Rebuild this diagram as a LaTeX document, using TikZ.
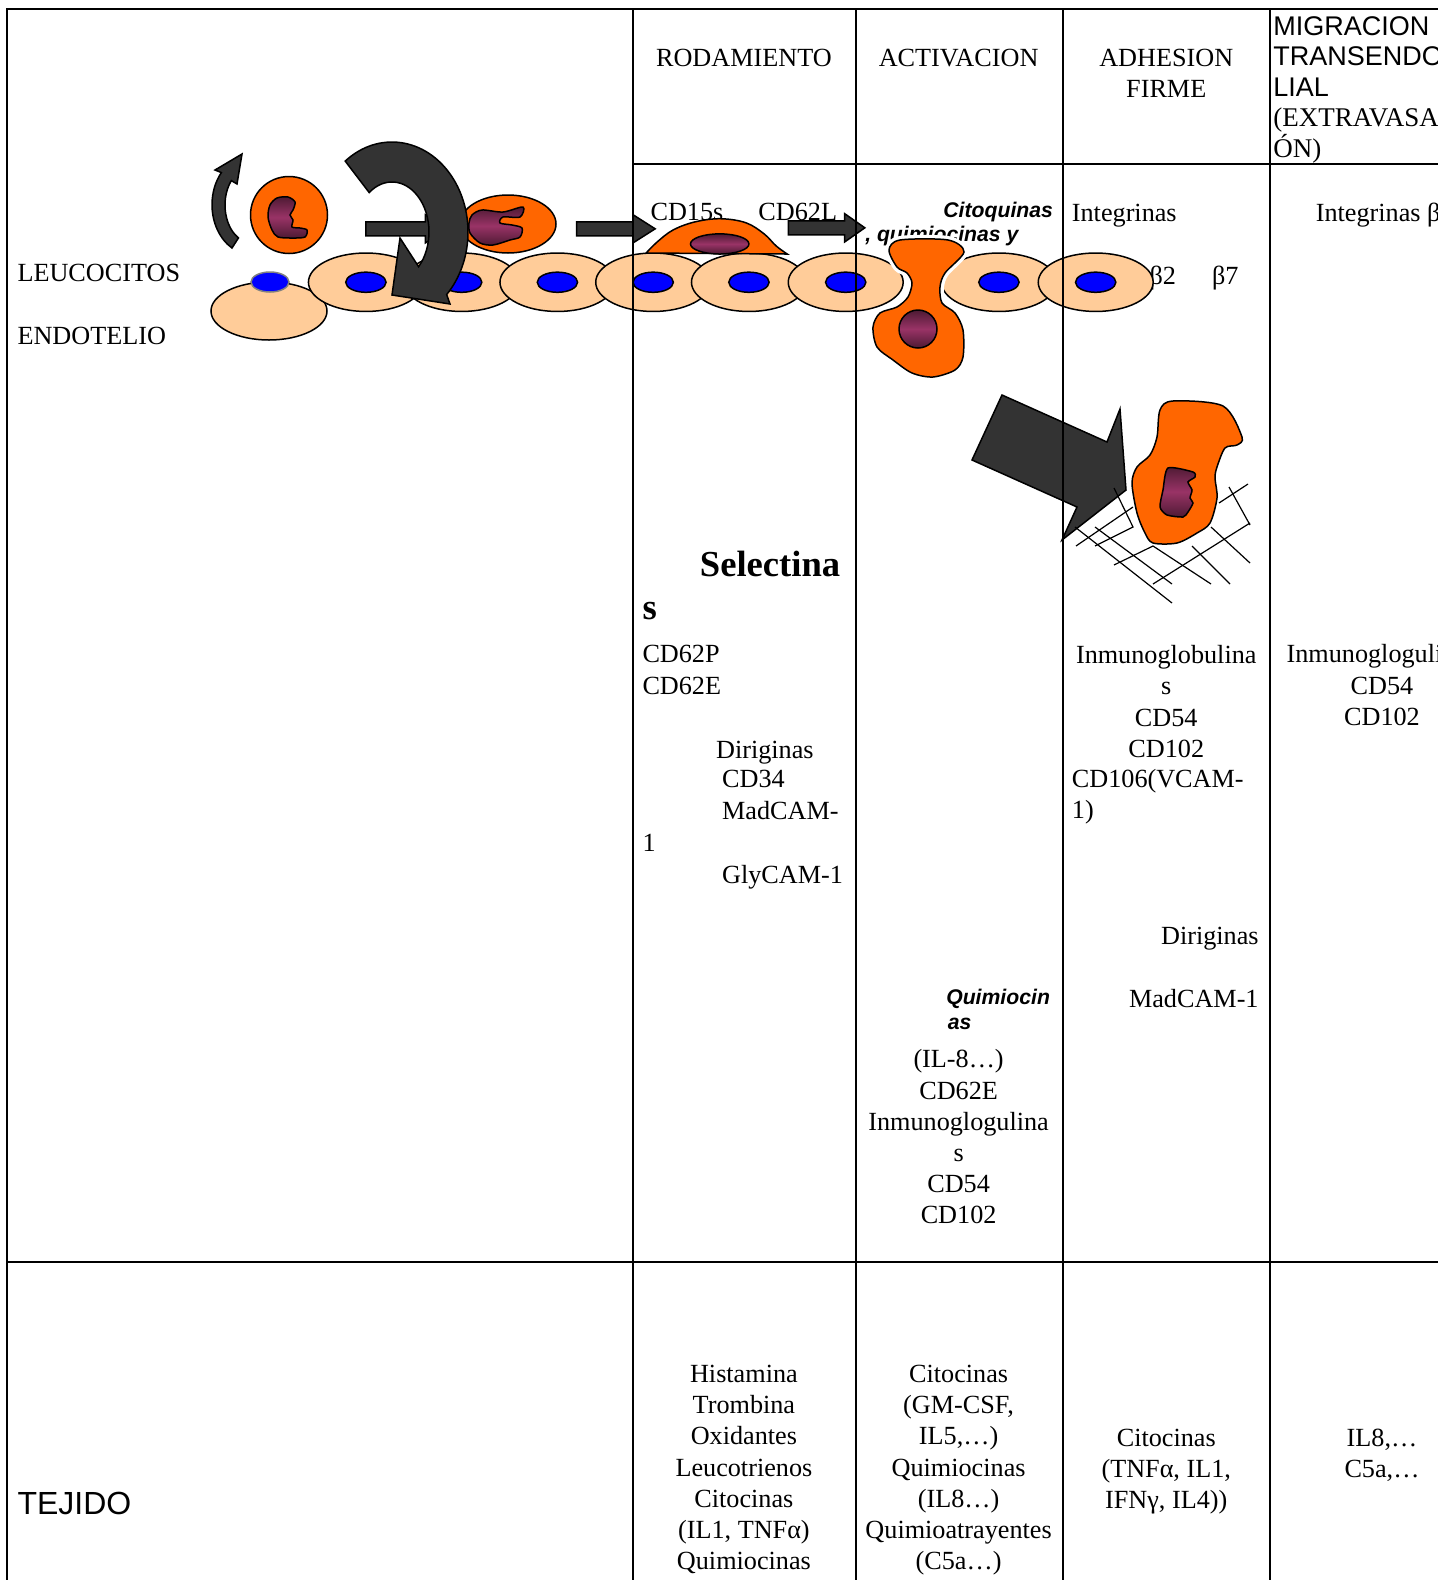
\documentclass[tikz,border=0pt]{standalone}
\usepackage{fontspec}
\setmainfont{Liberation Serif}
\setsansfont{Liberation Sans}
\definecolor{leuco}{HTML}{FF6600}
\definecolor{endo}{HTML}{FFCC99}
\definecolor{nucleo}{HTML}{0000FF}
\definecolor{flecha}{HTML}{333333}
\definecolor{morado}{HTML}{993366}
\definecolor{moradoosc}{HTML}{4D1A33}

\begin{document}
\begin{tikzpicture}[x=0.5pt,y=-0.5pt,
	txt/.style={inner sep=0pt,font=\fontsize{13.1}{15.6}\selectfont},
	ital/.style={inner sep=0pt,font=\sffamily\bfseries\itshape\fontsize{10.6}{12.6}\selectfont},
	celula/.style={fill=endo,draw=black,line width=0.75pt},
	nuc/.style={fill=nucleo,draw=black,line width=0.75pt},
	leu/.style={fill=leuco,draw=black,line width=0.75pt},
	nucleu/.style={draw=black,line width=0.75pt,top color=moradoosc,bottom color=moradoosc,middle color=morado},
	flech/.style={fill=flecha,draw=black,line width=0.75pt},
	malla/.style={line width=0.6pt},
	tabla/.style={line width=1pt}]
		\useasboundingbox (0,0) rectangle (1438,1580);
		\clip (0,0) rectangle (1438,1580);
		\node[inner sep=0pt,anchor=north west,align=left,font=\fontsize{13.5}{15.25}\selectfont] (mig) at (1273,16) {\sffamily MIGRACION\\\sffamily TRANSENDOTE\\\sffamily LIAL\\(EXTRAVASACI\\ÓN)};
		\begin{scope}[scale=1.008]
		% cabecera
		\node[txt,anchor=base] (rod) at (738,66) {RODAMIENTO};
		\node[txt,anchor=base] (act) at (951,66) {ACTIVACION};
		\node[txt,anchor=north,align=center] (adh) at (1157,48) {ADHESION\\FIRME};
		\node[txt,anchor=base west] (leuc) at (17,279) {LEUCOCITOS};
		\node[txt,anchor=base west] (endot) at (17,342) {ENDOTELIO};
		\node[anchor=base west,inner sep=0pt,font=\sffamily\fontsize{16}{19}\selectfont] (tej) at (17,1502) {TEJIDO};
		% rodamiento
		\node[txt,anchor=base west] (cd15) at (645,219) {CD15s};
		\node[txt,anchor=base west] (cd62l) at (752,219) {CD62L};
		\node[anchor=base west,inner sep=0pt,font=\bfseries\fontsize{18.3}{21}\selectfont] (sel) at (694,572) {Selectina};
		\node[anchor=base west,inner sep=0pt,font=\bfseries\fontsize{18.3}{21}\selectfont] (sels) at (637,615) {s};
		\node[txt,anchor=north west,align=left] (cd62p) at (637,640) {CD62P\\CD62E};
		\node[txt,anchor=base west] (dir1) at (710,752) {Diriginas};
		\node[txt,anchor=north west,align=left] (cd34) at (716,764) {CD34\\MadCAM-};
		\node[txt,anchor=base west] (uno) at (637,845) {1};
		\node[txt,anchor=base west] (gly) at (716,876) {GlyCAM-1};
		% activacion
		\node[ital,anchor=base east] (citoq) at (1045,216) {Citoquinas};
		\node[ital,anchor=base west] (quim) at (858,240) {, quimiocinas y};
		\node[ital,anchor=base east] (quim2) at (1042,997) {Quimiocin};
		\node[ital,anchor=base west] (quim3) at (940,1021) {as};
		\node[txt,anchor=north,align=center] (il8) at (951,1041) {(IL-8…)\\CD62E\\Inmunoglogulina\\s\\CD54\\CD102};
		% adhesion
		\node[txt,anchor=base west] (integ) at (1063,220) {Integrinas};
		\node[txt,anchor=base west] (b2) at (1140,282) {β2};
		\node[txt,anchor=base west] (b7) at (1202,282) {β7};
		\node[txt,anchor=north,align=center] (inmu) at (1157,640) {Inmunoglobulina\\s\\CD54\\CD102};
		\node[txt,anchor=north west,align=left] (vcam) at (1063,763) {CD106(VCAM-\\1)};
		\node[txt,anchor=base east] (dir2) at (1249,937) {Diriginas};
		\node[txt,anchor=base east] (mad) at (1249,999) {MadCAM-1};
		% migracion
		\node[txt,anchor=base west] (integ2) at (1305,220) {Integrinas β};
		\node[txt,anchor=base west] (inmu2) at (1276,657) {Inmunoglogulinas};
		\node[txt,anchor=north,align=center] (cd54b) at (1371,671) {CD54\\CD102};
		% tejido
		\node[txt,anchor=north,align=center] (tej1) at (738,1354) {Histamina\\Trombina\\Oxidantes\\Leucotrienos\\Citocinas\\(IL1, TNFα)\\Quimiocinas};
		\node[txt,anchor=north,align=center] (tej2) at (951,1354) {Citocinas\\(GM-CSF,\\IL5,…)\\Quimiocinas\\(IL8…)\\Quimioatrayentes\\(C5a…)};
		\node[txt,anchor=north,align=center] (tej3) at (1157,1417) {Citocinas\\(TNFα, IL1,\\IFNγ, IL4))};
		\node[txt,anchor=north,align=center] (tej4) at (1371,1417) {IL8,…\\C5a,…};
		% flechas rectas
		\draw[flech] (363,220) -- (422,220) -- (422,213) -- (445,227) -- (422,241) -- (422,234) -- (363,234) -- cycle;
		\draw[flech] (572,220) -- (628,220) -- (628,213) -- (650,227) -- (628,241) -- (628,234) -- (572,234) -- cycle;
		\draw[flech] (782,219) -- (838,219) -- (838,212) -- (858,226) -- (838,240) -- (838,233) -- (782,233) -- cycle;
		\end{scope}
		% leucocitos
		\draw[flech] (232,248) arc[start angle=120,end angle=220,x radius=40,y radius=50] -- (215,170) -- (242,154) -- (237,184) -- (231.3,180.6) arc[start angle=220,end angle=120,x radius=27,y radius=38] -- cycle;
		\draw[leu] (289,215) circle[radius=38.5];
		\draw[nucleu] plot[smooth cycle,tension=0.5] coordinates {(270,205) (277,198) (288,197) (295,202) (293,210) (290,215) (293,220) (292,227) (300,228) (307,230) (305,237) (293,238) (278,237) (272,230) (268,217)};
		\draw[leu] (508,224) ellipse[x radius=48,y radius=29];
		\draw[nucleu] plot[smooth cycle,tension=0.5] coordinates {(472,215) (482,210) (503,212) (523,207) (520,217) (503,217) (500,223) (512,225) (522,228) (520,237) (510,240) (493,245) (480,243) (470,233) (469,223)};
		% endotelio
		\draw[celula] (269,311) ellipse[x radius=58,y radius=29];
		\begin{scope}[scale=1.008]
		\draw[celula] (363,280) ellipse[x radius=57,y radius=29];
		\draw[celula] (458,280) ellipse[x radius=57,y radius=29];
		\draw[celula] (553,280) ellipse[x radius=57,y radius=29];
		\draw[celula] (648,280) ellipse[x radius=57,y radius=29];
		\draw[celula] (743,280) ellipse[x radius=57,y radius=29];
		\draw[celula] (839,280) ellipse[x radius=57,y radius=29];
		\draw[celula] (991,280) ellipse[x radius=57,y radius=29];
		\draw[celula] (1087,280) ellipse[x radius=57,y radius=29];
		\draw[nuc] (363,280) ellipse[x radius=20,y radius=10];
		\draw[nuc] (458,280) ellipse[x radius=20,y radius=10];
		\draw[nuc] (553,280) ellipse[x radius=20,y radius=10];
		\draw[nuc] (648,280) ellipse[x radius=20,y radius=10];
		\draw[nuc] (743,280) ellipse[x radius=20,y radius=10];
		\draw[nuc] (839,280) ellipse[x radius=20,y radius=10];
		\draw[nuc] (991,280) ellipse[x radius=20,y radius=10];
		\draw[nuc] (1087,280) ellipse[x radius=20,y radius=10];
		\end{scope}
		\draw[nuc,draw=gray] (270,282) ellipse[x radius=19,y radius=10];
		% flecha curva grande
		\draw[flech] (345.2,161.1) arc[start angle=-128,end angle=44,x radius=76,y radius=90] -- (450,304) -- (392,295) -- (400,238) -- (418.6,266.7) arc[start angle=44,end angle=-128,x radius=37,y radius=50] -- cycle;
		% leucocito aplanado
		\begin{scope}[scale=1.008]
		\draw[leu] plot[smooth,tension=0.6] coordinates {(641,251) (652,240) (668,228) (690,220) (715,217) (740,221) (758,232) (770,244) (781,252)} -- cycle;
		\draw[nucleu] (714,242) ellipse[x radius=29,y radius=10];
		\end{scope}
		% leucocito en diapedesis
		\draw[leu,preaction={draw=white,line width=4pt}] plot[smooth cycle,tension=0.5] coordinates {(889,250) (900,240) (948,240) (964,252) (945,273) (940,287) (942,303) (955,313) (963,330) (963,357) (955,370) (933,377) (912,373) (893,360) (877,347) (873,327) (880,313) (897,307) (908,297) (912,283) (907,273) (897,267)};
		\draw[nucleu] (918,329) circle[radius=19];
		% flecha al tejido
		\draw[flech] (1002,395) -- (1107,442) -- (1120,409) -- (1126,490) -- (1062,540) -- (1077,507) -- (972,460) -- cycle;
		\draw[malla] (1075,527) -- (1172,603);
		\draw[malla] (1095,527) -- (1172,584);
		\draw[malla] (1076,546) -- (1133,507);
		\draw[malla] (1114,488) -- (1133,527) -- (1095,546);
		\draw[malla] (1114,565) -- (1153,546) -- (1211,584);
		\draw[malla] (1192,546) -- (1230,584);
		\draw[malla] (1153,584) -- (1250,523);
		\draw[malla] (1211,527) -- (1250,563);
		\draw[malla] (1229,487) -- (1250,525);
		\draw[malla] (1219,503) -- (1248,484);
		\draw[leu] plot[smooth cycle,tension=0.5] coordinates {(1160,410) (1173,401) (1223,406) (1242,437) (1237,445) (1225,448) (1217,467) (1215,478) (1217,498) (1210,523) (1197,533) (1177,543) (1153,543) (1145,533) (1137,513) (1132,483) (1137,467) (1150,455) (1157,437)};
		\draw[nucleu] plot[smooth cycle,tension=0.4] coordinates {(1168,468) (1193,472) (1195,477) (1188,482) (1192,490) (1190,498) (1193,503) (1188,512) (1183,517) (1167,515) (1160,507) (1163,490)};
		% tabla
		\begin{scope}[scale=1.008]
		\draw[tabla] (7,1580) -- (7,9) -- (1438,9);
		\draw[tabla] (628,9) -- (628,1580);
		\draw[tabla] (849,9) -- (849,1580);
		\draw[tabla] (1055,9) -- (1055,1580);
		\draw[tabla] (1260,9) -- (1260,1580);
		\draw[tabla] (628,163) -- (1438,163);
		\draw[tabla] (7,1252) -- (1438,1252);
		\end{scope}
	\end{tikzpicture}
\end{document}
